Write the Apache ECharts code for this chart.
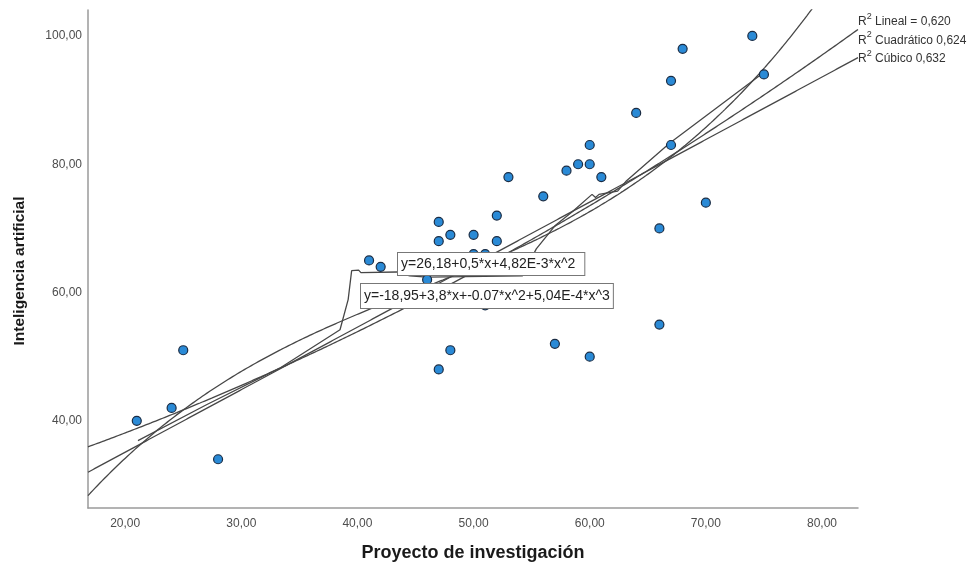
<!DOCTYPE html>
<html>
<head>
<meta charset="utf-8">
<script src="https://cdn.jsdelivr.net/npm/echarts@6/dist/echarts.min.js"></script>
<style>
  html, body { margin: 0; padding: 0; background: #ffffff; }
  #chart { width: 975px; height: 567px; }
</style>
</head>
<body>
<div id="chart"></div>
<script>
// Observations: Proyecto de investigación (x) vs Inteligencia artificial (y)
const proyecto = [21, 24, 25, 28, 41, 42, 47, 47, 48, 50, 52, 52, 53, 56, 58, 59, 60, 60, 61,
                  64, 67, 68, 67, 66, 66, 70, 74, 75, 57, 60, 47, 48, 50, 51, 46, 51];
const inteligencia = [40, 42, 51, 34, 65, 64, 71, 68, 69, 69, 72, 68, 78, 75, 79, 80, 80, 83, 78,
                      88, 93, 98, 83, 70, 55, 74, 100, 94, 52, 50, 48, 51, 66, 66, 62, 58];

// Fitted model coefficients (constant, x, x^2, x^3)
const coefLineal = [15.6, 0.975];
const coefCuadratico = [26.18, 0.5, 4.82e-3];
const coefCubico = [-18.95, 3.824, -0.06854, 5.04e-4];

// Local smoothing line through the cloud
const suaveX = [21.1, 27, 33.3, 38.5, 39.2, 39.5, 40.1, 40.3, 43.4, 44.5, 46, 54.2, 55.4, 57.0,
                58.5, 60.2, 60.5, 60.8, 62.4, 63.1, 66.9, 74.9];
const suaveY = [36.9, 42.5, 48.2, 54.2, 58.9, 63.4, 63.5, 63.1, 63.2, 62.6, 62.4, 62.6, 66.8, 70.4,
                72.6, 75.3, 74.8, 75.3, 75.8, 77.3, 83.3, 94.2];

// Tick labels
const xTicks = [20, 30, 40, 50, 60, 70, 80];
const yTicks = [40, 60, 80, 100];

// Axis extents
const xMin = 16.8, xMax = 83.1;
const yMin = 26.4, yMax = 104.05;

// Texts
const eqCuadratica = 'y=26,18+0,5*x+4,82E-3*x^2';
const eqCubica = 'y=-18,95+3,8*x+-0.07*x^2+5,04E-4*x^3';
const r2Labels = ['Lineal = 0,620', 'Cuadrático 0,624', 'Cúbico 0,632'];

function poly(coef, x) {
  let s = 0;
  for (let i = 0; i < coef.length; i++) s += coef[i] * Math.pow(x, i);
  return s;
}
function curve(coef) {
  const pts = [];
  const n = 330;
  for (let i = 0; i <= n; i++) {
    const x = xMin + (xMax - xMin) * i / n;
    pts.push([x, poly(coef, x)]);
  }
  return pts;
}
const fmt = v => v.toFixed(2).replace('.', ',');
const font = '"Liberation Sans", Arial, sans-serif';
const lineStyle = { color: '#474747', width: 1.3 };

const chart = echarts.init(document.getElementById('chart'), null, { renderer: 'canvas' });

chart.setOption({
  animation: false,
  backgroundColor: '#ffffff',
  grid: { left: 88, right: 117, top: 10, bottom: 59, containLabel: false },
  xAxis: {
    type: 'value', min: xMin, max: xMax,
    name: 'Proyecto de investigación', nameLocation: 'middle', nameGap: 36,
    nameTextStyle: { fontFamily: font, fontSize: 18, fontWeight: 'bold', color: '#1a1a1a' },
    axisLine: { show: true, lineStyle: { color: '#9a9a9a', width: 1.5 } },
    axisTick: { show: false },
    splitLine: { show: false },
    axisLabel: { customValues: xTicks, formatter: fmt, fontFamily: font, fontSize: 12, color: '#4d4d4d', margin: 10 }
  },
  yAxis: {
    type: 'value', min: yMin, max: yMax,
    name: 'Inteligencia artificial', nameLocation: 'middle', nameGap: 60, nameRotate: 90,
    nameTextStyle: { fontFamily: font, fontSize: 15.5, fontWeight: 'bold', color: '#1a1a1a', padding: [0, 24, 0, 0] },
    axisLine: { show: true, lineStyle: { color: '#9a9a9a', width: 1.5 } },
    axisTick: { show: false },
    splitLine: { show: false },
    axisLabel: { customValues: yTicks, formatter: fmt, fontFamily: font, fontSize: 12, color: '#4d4d4d', margin: 6 }
  },
  series: [
    { name: 'Lineal', type: 'line', data: curve(coefLineal), showSymbol: false, clip: true, lineStyle, z: 2 },
    { name: 'Cuadrático', type: 'line', data: curve(coefCuadratico), showSymbol: false, clip: true, lineStyle, z: 2 },
    { name: 'Cúbico', type: 'line', data: curve(coefCubico), showSymbol: false, clip: true, lineStyle, z: 2 },
    { name: 'Suavizado', type: 'line', data: suaveX.map((x, i) => [x, suaveY[i]]), showSymbol: false, clip: true, lineStyle, z: 2 },
    {
      name: 'Observado', type: 'scatter', z: 3,
      data: proyecto.map((x, i) => [x, inteligencia[i]]),
      symbolSize: 9,
      itemStyle: { color: '#2a8ad6', borderColor: '#1a2c44', borderWidth: 1.2, opacity: 1 }
    }
  ],
  graphic: [
    {
      type: 'text', left: 397, top: 252, z: 10,
      style: {
        text: eqCuadratica, font: '14px ' + font, fill: '#222222',
        backgroundColor: '#ffffff', borderColor: '#777777', borderWidth: 1,
        padding: [3, 9, 3, 3], lineHeight: 16
      }
    },
    {
      type: 'text', left: 360, top: 283, z: 10,
      style: {
        text: eqCubica, font: '14px ' + font, fill: '#222222',
        backgroundColor: '#ffffff', borderColor: '#777777', borderWidth: 1,
        padding: [4, 3, 4, 3], lineHeight: 16
      }
    }
  ].concat(r2Labels.map((t, i) => ({
    type: 'text', left: 858, top: 12 + i * 18.5, z: 10,
    style: {
      text: '{r|R}{s|2}{r| ' + t + '}',
      rich: {
        r: { font: '12px ' + font, fill: '#333333', lineHeight: 16, verticalAlign: 'bottom' },
        s: { font: '9px ' + font, fill: '#333333', lineHeight: 12, verticalAlign: 'top' }
      }
    }
  })))
});
</script>
</body>
</html>
